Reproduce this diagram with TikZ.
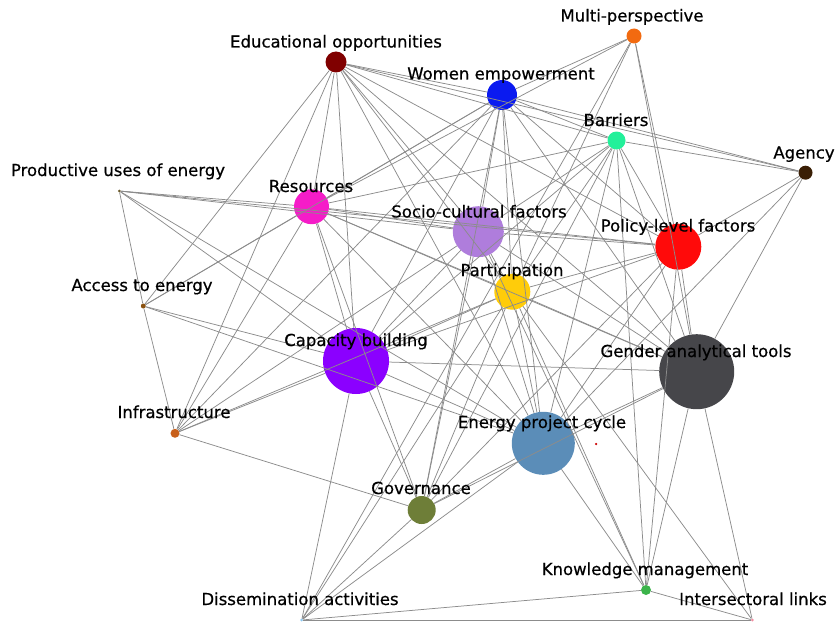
\documentclass[tikz,border=0pt]{standalone}
\usepackage{fontspec}
\setmainfont{DejaVu Sans}[FakeBold=0.6]
\newfontfamily\lblfont{DejaVu Sans}[AutoFakeBold=0.6]
\definecolor{cEO}{HTML}{800000}
\definecolor{cMP}{HTML}{F26A10}
\definecolor{cWE}{HTML}{0A1AF0}
\definecolor{cBA}{HTML}{22F09A}
\definecolor{cAG}{HTML}{3A1F05}
\definecolor{cPU}{HTML}{6B5A2A}
\definecolor{cRE}{HTML}{F51CC8}
\definecolor{cSC}{HTML}{AF7DDC}
\definecolor{cPL}{HTML}{FF0A0A}
\definecolor{cPA}{HTML}{FFCC0A}
\definecolor{cAE}{HTML}{8A5210}
\definecolor{cCB}{HTML}{8B00FF}
\definecolor{cGA}{HTML}{46464A}
\definecolor{cIN}{HTML}{C8601A}
\definecolor{cEP}{HTML}{5B8DB8}
\definecolor{cGO}{HTML}{6E7E38}
\definecolor{cKM}{HTML}{3CB44B}
\definecolor{cDA}{HTML}{8EC8F0}
\definecolor{cIL}{HTML}{F08CA0}
\tikzset{
  edge/.style={draw=black!45, line width=0.75pt},
  vtx/.style={circle, inner sep=0pt, draw=none},
  lbl/.style={font=\lblfont\bfseries\fontsize{16.5}{18}\selectfont, inner sep=0pt, anchor=base, text=black},
}
\begin{document}
\begin{tikzpicture}[x=1pt,y=-1pt]
\useasboundingbox (0,0) rectangle (837,623);
% vertices
\node[vtx, fill=cEO, minimum size=21pt] (EO) at (336,62) {};
\node[vtx, fill=cMP, minimum size=15pt] (MP) at (634,36) {};
\node[vtx, fill=cWE, minimum size=30pt] (WE) at (502,95) {};
\node[vtx, fill=cBA, minimum size=18pt] (BA) at (616.5,140.5) {};
\node[vtx, fill=cAG, minimum size=14pt] (AG) at (805.5,172.7) {};
\node[vtx, fill=cPU, minimum size=3pt] (PU) at (119.3,191) {};
\node[vtx, fill=cRE, minimum size=35pt] (RE) at (311.5,206.7) {};
\node[vtx, fill=cSC, minimum size=51pt] (SC) at (478.3,231.7) {};
\node[vtx, fill=cPL, minimum size=46pt] (PL) at (678.3,246.7) {};
\node[vtx, fill=cPA, minimum size=36pt] (PA) at (512.3,291.7) {};
\node[vtx, fill=cAE, minimum size=5pt] (AE) at (143.3,306) {};
\node[vtx, fill=cCB, minimum size=66pt] (CB) at (356,361) {};
\node[vtx, fill=cGA, minimum size=75pt] (GA) at (696.7,371.7) {};
\node[vtx, fill=cIN, minimum size=9pt] (IN) at (175,433.3) {};
\node[vtx, fill=cEP, minimum size=63pt] (EP) at (543.3,443.3) {};
\node[vtx, fill=cGO, minimum size=28pt] (GO) at (421.7,510) {};
\node[vtx, fill=cKM, minimum size=10pt] (KM) at (646,590) {};
\node[vtx, fill=cDA, minimum size=3pt] (DA) at (301.7,620) {};
\node[vtx, fill=cIL, minimum size=3pt] (IL) at (752.3,620) {};
\node[vtx, fill=red!80!black, minimum size=2.5pt] (RD) at (596,444) {};
% edges
\foreach \a/\b in {
 EO/WE, EO/BA, EO/AG, EO/PL, EO/GA, EO/EP, EO/PA, EO/CB, EO/RE, EO/AE, EO/IN, EO/SC,
 MP/WE, MP/RE, MP/PA, MP/DA, MP/PL, MP/GA,
 WE/RE, WE/AE, WE/CB, WE/IN, WE/SC, WE/PA, WE/EP, WE/GO, WE/GA, WE/BA, WE/AG, WE/PL,
 BA/RE, BA/AG, BA/PA, BA/GO, BA/EP, BA/KM, BA/PL, BA/GA, BA/SC, BA/CB,
 AG/PL, AG/GA, AG/EP,
 PU/RE, PU/SC, PU/AE, PU/CB, PU/EP, PU/PL,
 AE/RE, AE/IN, AE/CB, AE/EP,
 IN/RE, IN/CB, IN/PA, IN/SC, IN/GO,
 RE/SC, RE/PL, RE/PA, RE/GA, RE/CB, RE/EP, RE/GO,
 SC/PL, SC/PA, SC/CB, SC/GA, SC/EP, SC/GO, SC/KM,
 PL/PA, PL/CB, PL/GA, PL/EP, PL/GO, PL/KM,
 PA/CB, PA/GA, PA/EP, PA/GO, PA/DA, PA/IL, PA/KM,
 CB/GA, CB/EP, CB/GO, CB/DA,
 GA/EP, GA/GO, GA/KM, GA/IL,
 EP/GO, EP/KM, EP/DA,
 GO/DA, KM/DA, KM/IL, DA/IL}
 \draw[edge] (\a) -- (\b);
% labels
\node[lbl] (lEO) at (336,47.5) {Educational opportunities};
\node[lbl] (lMP) at (632,21.5) {Multi-perspective};
\node[lbl] (lWE) at (501,79.5) {Women empowerment};
\node[lbl] (lBA) at (616,126) {Barriers};
\node[lbl] (lAG) at (804,158.5) {Agency};
\node[lbl] (lPU) at (118,176) {Productive uses of energy};
\node[lbl] (lRE) at (311,192) {Resources};
\node[lbl] (lSC) at (479,217.5) {Socio-cultural factors};
\node[lbl] (lPL) at (678,231.5) {Policy-level factors};
\node[lbl] (lPA) at (512,276) {Participation};
\node[lbl] (lAE) at (142,291) {Access to energy};
\node[lbl] (lCB) at (356,346) {Capacity building};
\node[lbl] (lGA) at (696,357) {Gender analytical tools};
\node[lbl] (lIN) at (174,418) {Infrastructure};
\node[lbl] (lEP) at (542,428) {Energy project cycle};
\node[lbl] (lGO) at (421,494) {Governance};
\node[lbl] (lKM) at (645,575) {Knowledge management};
\node[lbl] (lDA) at (300,605) {Dissemination activities};
\node[lbl] (lIL) at (753,605) {Intersectoral links};
\end{tikzpicture}
\end{document}
